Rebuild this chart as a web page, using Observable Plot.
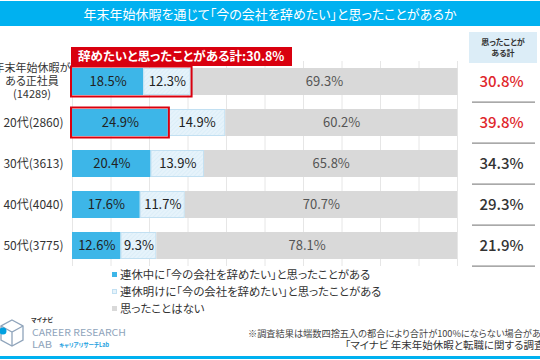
<!DOCTYPE html>
<html><head><meta charset="utf-8">
<script src="https://cdn.jsdelivr.net/npm/d3@7"></script>
<script src="https://cdn.jsdelivr.net/npm/@observablehq/plot@0.6"></script>
<style>
body{margin:0;background:#fff;}
#wrap{position:relative;width:540px;height:360px;overflow:hidden;background:#fff;
  font-family:"Noto Sans CJK JP","Noto Sans",sans-serif;font-feature-settings:"palt";color:#333;}
#title{position:absolute;left:0;top:1px;width:540px;height:25px;background:#00b1f0;color:#fff;
  font-size:13px;line-height:25px;text-align:center;}
#chart{position:absolute;left:0;top:30px;}
#legend{position:absolute;left:112px;top:266px;font-size:11.4px;line-height:17px;color:#333;}
#legend .sw{display:inline-block;width:5px;height:5px;margin-right:3px;vertical-align:middle;position:relative;top:-1px;}
#note{position:absolute;left:248px;top:328px;font-size:9.2px;line-height:10px;white-space:nowrap;color:#444;}
#src{position:absolute;left:345px;top:339px;font-size:10.5px;line-height:12px;white-space:nowrap;color:#333;}
#bottomline{position:absolute;left:0;top:356px;width:540px;height:3px;background:#00b1f0;}
#logo{position:absolute;left:0;top:316px;}
</style></head><body><div id="wrap">
<div id="title"></div>
<div id="chart"></div>
<div id="legend"></div>
<div id="note"></div>
<div id="src"></div>
<div id="logo">
<svg width="140" height="40" style="font-family:'Noto Sans CJK JP'">
  <g fill="none" stroke="#8fa4bb" stroke-width="1.3">
    <path d="M12 4 L23 10 L23 24 L12 30 L1 24 L1 10 Z"/>
    <path d="M1 10 L12 16 L23 10 M12 16 L12 30"/>
  </g>
  <circle cx="3" cy="15" r="3.5" fill="#00a0e0"/>
  <text x="31" y="6" font-size="6" font-weight="700" fill="#333">マイナビ</text>
  <text x="32" y="19.5" font-size="9.5" fill="#8fa4bb" textLength="94" lengthAdjust="spacingAndGlyphs">CAREER RESEARCH</text>
  <text x="32" y="32" font-size="9.5" fill="#8fa4bb" textLength="20" lengthAdjust="spacingAndGlyphs">LAB</text>
  <text x="59" y="31" font-size="5.5" font-weight="700" fill="#1aa0e0">キャリアリサーチLab</text>
</svg>
</div>
<div id="bottomline"></div>
</div>
<script>
const titleText = "年末年始休暇を通じて「今の会社を辞めたい」と思ったことがあるか";
const groups = ["年末年始休暇が\nある正社員\n(14289)", "20代(2860)", "30代(3613)", "40代(4040)", "50代(3775)"];
const seriesNames = ["連休中に「今の会社を辞めたい」と思ったことがある", "連休明けに「今の会社を辞めたい」と思ったことがある", "思ったことはない"];
const duringHoliday = [18.5, 24.9, 20.4, 17.6, 12.6];
const afterHoliday = [12.3, 14.9, 13.9, 11.7, 9.3];
const neverThought = [69.3, 60.2, 65.8, 70.7, 78.1];
const totalEver = [30.8, 39.8, 34.3, 29.3, 21.9];
const totalHighlighted = [true, true, false, false, false];
const outlinedSegments = [2, 1, 0, 0, 0];
const calloutLabel = "辞めたいと思ったことがある計:";
const totalHeader = "思ったことが\nある計";
const gridTicks = [0, 10, 20, 30, 40, 50, 60, 70, 80, 90, 100];
const noteText = "※調査結果は端数四捨五入の都合により合計が100%にならない場合がある";
const sourceText = "「マイナビ 年末年始休暇と転職に関する調査」";

const BLUE = "#3db6e8", LIGHT = "#e6f3fb", GRAY = "#d9d9d9", RED = "#d9000f", RED_TXT = "#e0262b";

document.getElementById("title").textContent = titleText;
document.getElementById("note").textContent = noteText;
document.getElementById("src").textContent = sourceText;

const seriesVals = [duringHoliday, afterHoliday, neverThought];
const seg = [];
groups.forEach((g, i) => {
  let acc = 0;
  seriesVals.forEach((arr, k) => {
    seg.push({group: g, k, value: arr[i], x1: acc, x2: acc + arr[i]});
    acc += arr[i];
  });
});
const outlines = groups.map((g, i) => ({group: g, n: outlinedSegments[i],
  x2: seriesVals.slice(0, outlinedSegments[i]).reduce((s, a) => s + a[i], 0)})).filter(d => d.n > 0);
const totals = groups.map((g, i) => ({group: g, total: totalEver[i], hi: totalHighlighted[i]}));

const defs = () => {
  const g = d3.create("svg:g");
  const p = g.append("defs").append("pattern").attr("id", "hatch").attr("patternUnits", "userSpaceOnUse")
    .attr("width", 3).attr("height", 3).attr("patternTransform", "rotate(45)");
  p.append("rect").attr("width", 3).attr("height", 3).attr("fill", LIGHT);
  p.append("line").attr("x1", 0).attr("y1", 0).attr("x2", 0).attr("y2", 3).attr("stroke", "#d3e9f6").attr("stroke-width", 1);
  return g.node();
};

const decorations = (index, scales, values, dim) => {
  const sx = scales.x, sy = scales.y;
  const y0 = sy(groups[0]);
  const step = sy(groups[1]) - sy(groups[0]);
  const bw = step * (1 - 0.34);
  const x0 = sx(0);
  const right = dim.width - dim.marginRight;
  const cx = right + 46;
  const g = d3.create("svg:g").attr("text-anchor", "start");
  // first (multi-line) row label
  const lines = groups[0].split("\n");
  lines.forEach((t, j) => {
    g.append("text").attr("x", x0 - 40).attr("y", y0 + bw / 2 + (j - (lines.length - 1) / 2) * 13)
      .attr("dy", "0.35em").attr("text-anchor", "middle").attr("font-size", 11).attr("fill", "#333").text(t);
  });
  // callout box
  g.append("rect").attr("x", x0 - 1).attr("y", y0 - 21).attr("width", 221).attr("height", 19).attr("fill", RED);
  g.append("text").attr("x", x0 + 6).attr("y", y0 - 11.5).attr("dy", "0.35em").attr("fill", "#fff")
    .attr("text-anchor", "start").attr("font-size", 12.5).attr("font-weight", 700)
    .text(calloutLabel + totalEver[0].toFixed(1) + "%");
  // right header
  g.append("rect").attr("x", cx - 34).attr("y", y0 - 36).attr("width", 68).attr("height", 31).attr("fill", "#dcedf7");
  totalHeader.split("\n").forEach((t, j) => {
    g.append("text").attr("x", cx).attr("y", y0 - 26 + j * 11).attr("dy", "0.35em").attr("text-anchor", "middle")
      .attr("font-size", 8).attr("font-weight", 700).attr("fill", "#333").text(t);
  });
  // separators
  groups.forEach(gr => {
    const yy = sy(gr) + bw + (step - bw) / 2;
    g.append("line").attr("x1", cx - 31).attr("x2", cx + 32).attr("y1", yy).attr("y2", yy)
      .attr("stroke", "#8c8c8c").attr("stroke-width", 1.3);
  });
  return g.node();
};

const plot = Plot.plot({
  width: 540, height: 240,
  marginTop: 31, marginBottom: 4, marginLeft: 72, marginRight: 83,
  style: {fontFamily: "Noto Sans CJK JP", fontSize: "12px", background: "transparent", fontFeatureSettings: "\"palt\""},
  x: {domain: [0, 100], axis: null},
  y: {domain: groups, axis: null, paddingInner: 0.34, paddingOuter: 0.17},
  marks: [
    defs,
    Plot.ruleX(gridTicks, {stroke: "#e6e6e6", strokeWidth: 1}),
    Plot.barX(seg.filter(d => d.k === 0), {x1: "x1", x2: "x2", y: "group", fill: BLUE}),
    Plot.barX(seg.filter(d => d.k === 1), {x1: "x1", x2: "x2", y: "group", fill: "url(#hatch)", stroke: "#c2e0f2", strokeWidth: 1, inset: 0.5}),
    Plot.barX(seg.filter(d => d.k === 2), {x1: "x1", x2: "x2", y: "group", fill: GRAY}),
    Plot.barX(outlines, {x1: 0, x2: "x2", y: "group", fill: "none", stroke: RED, strokeWidth: 2,
      insetTop: -1.5, insetBottom: -1.5, insetLeft: -1, insetRight: -1}),
    Plot.text(seg.filter(d => d.k < 2), {x: d => (d.x1 + d.x2) / 2, y: "group", text: d => d.value.toFixed(1) + "%",
      fill: "#222", fontSize: 13}),
    Plot.text(seg.filter(d => d.k === 2), {x: d => (d.x1 + d.x2) / 2, y: "group", text: d => d.value.toFixed(1) + "%",
      fill: "#555", fontSize: 13}),
    Plot.text(groups.slice(1), {y: d => d, text: d => d, frameAnchor: "left", dx: -9, textAnchor: "end",
      fontSize: 12, fill: "#333"}),
    Plot.text(totals.filter(d => d.hi), {y: "group", text: d => d.total.toFixed(1) + "%", frameAnchor: "right", dx: 44,
      textAnchor: "middle", fill: RED_TXT, fontSize: 15, fontWeight: 500}),
    Plot.text(totals.filter(d => !d.hi), {y: "group", text: d => d.total.toFixed(1) + "%", frameAnchor: "right", dx: 44,
      textAnchor: "middle", fill: "#333", fontSize: 15, fontWeight: 500}),
    decorations
  ]
});
document.getElementById("chart").appendChild(plot);

const legend = document.getElementById("legend");
const swatchColors = [BLUE, LIGHT, GRAY];
seriesNames.forEach((n, k) => {
  const row = document.createElement("div");
  const sw = document.createElement("span");
  sw.className = "sw";
  sw.style.background = swatchColors[k];
  if (k === 1) sw.style.boxShadow = "inset 0 0 0 1px #c2e0f2";
  row.appendChild(sw);
  row.appendChild(document.createTextNode(n));
  legend.appendChild(row);
});
</script>
</body></html>
